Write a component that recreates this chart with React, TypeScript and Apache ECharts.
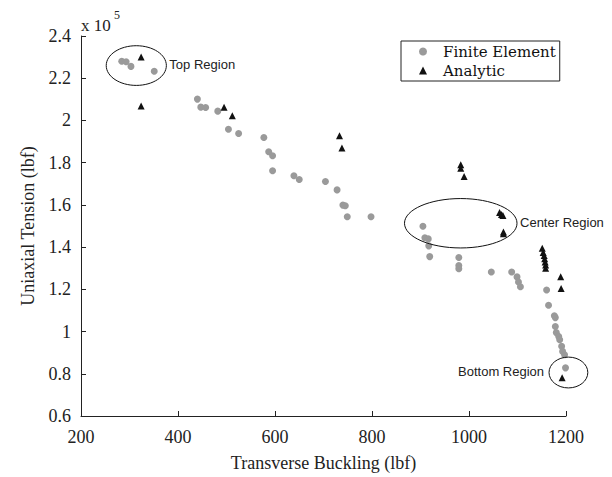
import React, { useEffect, useRef } from "react";
import * as echarts from "echarts";

// Finite Element results (x: transverse buckling lbf, y: uniaxial tension x 1e5 lbf)
const feX = [284, 293, 303, 351, 440, 447, 457, 482, 504, 525, 577, 587, 595, 595, 639, 650, 704, 728, 740, 745, 749, 798, 905, 909, 916, 917, 919, 979, 979, 979, 1046, 1088, 1099, 1102, 1106, 1160, 1164, 1176, 1178, 1178, 1180, 1185, 1187, 1191, 1193, 1197, 1199];
const feY = [2.28, 2.278, 2.256, 2.233, 2.101, 2.063, 2.061, 2.044, 1.958, 1.938, 1.919, 1.852, 1.833, 1.762, 1.738, 1.72, 1.711, 1.671, 1.599, 1.596, 1.544, 1.544, 1.499, 1.444, 1.439, 1.406, 1.355, 1.351, 1.313, 1.298, 1.282, 1.282, 1.259, 1.235, 1.212, 1.197, 1.125, 1.075, 1.066, 1.024, 0.995, 0.977, 0.961, 0.93, 0.906, 0.89, 0.828];

// Analytic results
const anX = [324, 324, 495, 512, 733, 738, 983, 983, 990, 1063, 1067, 1070, 1071, 1071, 1151, 1153, 1155, 1156, 1157, 1158, 1158, 1189, 1190, 1192];
const anY = [2.3, 2.069, 2.062, 2.022, 1.928, 1.87, 1.79, 1.773, 1.735, 1.564, 1.555, 1.55, 1.472, 1.463, 1.395, 1.375, 1.36, 1.345, 1.33, 1.315, 1.3, 1.26, 1.204, 0.781];

// Annotated regions (centre in data units, radii in data units)
const regionNames = ["Top Region", "Center Region", "Bottom Region"];
const regionX = [314, 983, 1205];
const regionY = [2.26, 1.513, 0.806];
const regionRx = [62, 116, 40];
const regionRy = [0.094, 0.117, 0.073];
const regionLabelSide = ["right", "right", "left"];

const xTicks = { min: 200, max: 1200, interval: 200 };
const yTicks = { min: 0.6, max: 2.4, interval: 0.2 };

export default function App() {
  const ref = useRef<HTMLDivElement>(null);

  useEffect(() => {
    if (!ref.current) return;
    const chart = echarts.init(ref.current, undefined, { renderer: "svg" });
    const serif = "Liberation Serif";
    const axisColor = "#222";

    const option: any = {
      animation: false,
      backgroundColor: "#fff",
      textStyle: { fontFamily: serif },
      grid: { left: 81, top: 36, right: 46, bottom: 59 },
      legend: {
        data: ["Finite Element", "Analytic"],
        orient: "vertical",
        left: 401,
        top: 41,
        padding: [3, 4, 3, 18],
        itemGap: 4,
        itemWidth: 8,
        itemHeight: 8,
        borderColor: "#222",
        borderWidth: 1,
        textStyle: {
          fontFamily: "DejaVu Serif",
          fontSize: 15,
          color: "#111",
          padding: [0, 0, 0, 11],
        },
      },
      xAxis: {
        type: "value",
        min: xTicks.min,
        max: xTicks.max,
        interval: xTicks.interval,
        name: "Transverse Buckling (lbf)",
        nameLocation: "middle",
        nameGap: 38,
        nameTextStyle: { fontFamily: serif, fontSize: 18, color: axisColor },
        axisLine: { lineStyle: { color: axisColor, width: 1 } },
        axisTick: { inside: true, length: 5, lineStyle: { color: axisColor } },
        axisLabel: {
          fontFamily: serif,
          fontSize: 18,
          color: axisColor,
          margin: 12,
          formatter: (v: number) => String(Math.round(v)),
        },
        splitLine: { show: false },
      },
      yAxis: {
        type: "value",
        min: yTicks.min,
        max: yTicks.max,
        interval: yTicks.interval,
        name: "Uniaxial Tension (lbf)",
        nameLocation: "middle",
        nameGap: 44,
        nameTextStyle: { fontFamily: serif, fontSize: 18, color: axisColor },
        axisLine: { show: true, lineStyle: { color: axisColor, width: 1 } },
        axisTick: { show: true, inside: true, length: 5, lineStyle: { color: axisColor } },
        axisLabel: {
          fontFamily: serif,
          fontSize: 18,
          color: axisColor,
          margin: 10,
          formatter: (v: number) => String(Math.round(v * 10) / 10),
        },
        splitLine: { show: false },
      },
      graphic: [
        {
          type: "text",
          left: 81,
          top: 17,
          style: { text: "x 10", fontFamily: serif, fontSize: 17, fill: axisColor },
        },
        {
          type: "text",
          left: 114,
          top: 9,
          style: { text: "5", fontFamily: serif, fontSize: 12, fill: axisColor },
        },
      ],
      series: [
        {
          name: "Finite Element",
          type: "scatter",
          symbol: "circle",
          symbolSize: 7,
          itemStyle: { color: "#9a9a9a", opacity: 1 },
          data: feX.map((x, i) => [x, feY[i]]),
          z: 2,
        },
        {
          name: "Analytic",
          type: "scatter",
          symbol: "triangle",
          symbolSize: 7,
          itemStyle: { color: "#111", opacity: 1 },
          data: anX.map((x, i) => [x, anY[i]]),
          z: 3,
        },
        {
          name: "Regions",
          type: "custom",
          clip: false,
          silent: true,
          data: regionX.map((x, i) => [x, regionY[i], regionRx[i], regionRy[i], i]),
          renderItem: (params: any, api: any) => {
            const c = api.coord([api.value(0), api.value(1)]);
            const s = api.size([api.value(2), api.value(3)]);
            const idx = api.value(4);
            const side = regionLabelSide[idx];
            const tx = side === "right" ? c[0] + s[0] + 3 : c[0] - s[0] - 5;
            return {
              type: "group",
              children: [
                {
                  type: "ellipse",
                  shape: { cx: c[0], cy: c[1], rx: s[0], ry: s[1] },
                  style: { fill: "none", stroke: "#111", lineWidth: 1 },
                },
                {
                  type: "text",
                  x: tx,
                  y: c[1] - 1,
                  style: {
                    text: regionNames[idx],
                    fontFamily: "Liberation Sans",
                    fontSize: 13,
                    fill: "#222",
                    align: side === "right" ? "left" : "right",
                    verticalAlign: "middle",
                  },
                },
              ],
            };
          },
          z: 4,
        },
      ],
    };

    chart.setOption(option);
    return () => chart.dispose();
  }, []);

  return (
    <div
      ref={ref}
      style={{ position: "fixed", left: 0, top: 0, width: 612, height: 477, background: "#fff" }}
    />
  );
}
